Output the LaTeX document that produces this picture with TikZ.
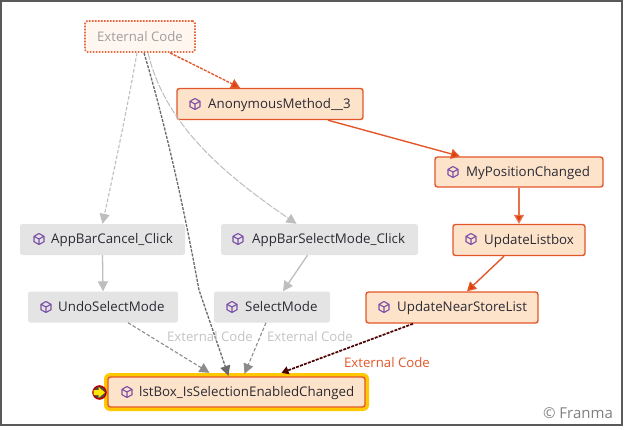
\documentclass[tikz,border=0pt]{standalone}
\usepackage{fontspec}
\setmainfont{Open Sans}
\usetikzlibrary{arrows.meta}
\definecolor{org}{HTML}{E2582B}
\definecolor{orgfill}{HTML}{FEE3CB}
\definecolor{arrowred}{HTML}{DC3F0A}
\definecolor{greyfill}{HTML}{E4E4E4}
\definecolor{greyedge}{HTML}{BEBEBE}
\definecolor{greydark}{HTML}{8C8C8C}
\definecolor{txt}{HTML}{2A2A33}
\definecolor{purp}{HTML}{7B4FA6}
\definecolor{lbl}{HTML}{C4C4C4}
\definecolor{halocol}{HTML}{FFC800}
\tikzset{
 x=1pt,y=-1pt,
 box/.style={rectangle,rounded corners=2.5pt,minimum height=30pt,inner sep=0pt,text=txt,font=\fontsize{13.3pt}{15pt}\selectfont,text height=10pt,text depth=3pt},
 hot/.style={box,draw=org,line width=1.4pt,fill=orgfill},
 cold/.style={box,fill=greyfill},
 redge/.style={-{Triangle[length=9pt,width=10pt,fill=arrowred]},draw=org,line width=1.4pt},
 gedge/.style={-{Triangle[length=10pt,width=10pt]},draw=greyedge,line width=1.3pt},
 gdash/.style={gedge,dashed,dash pattern=on 3.5pt off 2pt,line width=1.1pt},
 edgelbl/.style={font=\fontsize{13.2pt}{15pt}\selectfont,text=lbl,inner sep=0pt},
 pics/cube/.style={code={
  \draw[purp,line width=1.1pt,line join=round]
   (0,-5.5)--(5,-2.7)--(5,2.7)--(0,5.5)--(-5,2.7)--(-5,-2.7)--cycle
   (-5,-2.7)--(0,0)--(5,-2.7) (0,0)--(0,5.5);
 }}
}
\begin{document}
\begin{tikzpicture}
\useasboundingbox (0,0) rectangle (626,429);
\fill[white] (0,0) rectangle (626,429);
\draw[draw=black!65,line width=2pt] (1,1)--(622,1)--(622,425)--(1,425)--cycle;

\node[rectangle,rounded corners=2.5pt,draw=org!90,dash pattern=on 1.6pt off 1.4pt,line width=1.7pt,fill=orgfill!30,minimum width=110pt,minimum height=31pt,inner sep=0pt,text=black!38,font=\fontsize{13.2pt}{15pt}\selectfont] (ext) at (140,36.5) {External Code};

\node[hot,minimum width=186pt,minimum height=31pt,align=left] (anon) at (270,104) {};
\node[hot,minimum width=168pt] (mypos) at (519,172) {};
\node[hot,minimum width=132pt,minimum height=31pt] (upd) at (519,240) {};
\node[hot,minimum width=172pt,minimum height=31pt] (near) at (452,307.5) {};
\node[cold,minimum width=165pt,minimum height=31pt] (cancel) at (102.5,239.5) {};
\node[cold,minimum width=197pt,minimum height=31pt] (selclick) at (319.5,239.5) {};
\node[cold,minimum width=150pt,minimum height=31pt] (undo) at (103,307) {};
\node[cold,minimum width=116pt,minimum height=31pt] (sel) at (272,307) {};
\node[rectangle,rounded corners=6pt,fill=halocol,minimum width=265pt,minimum height=38pt,inner sep=0pt] (halo) at (236.5,392) {};
\node[hot,minimum width=257pt,minimum height=30pt] (lst) at (236.5,392) {};

\node[box,anchor=west] (anontxt) at (208,105) {AnonymousMethod\_\_3};
\node[box,anchor=west] (mypostxt) at (466,173) {MyPositionChanged};
\node[box,anchor=west] (updtxt) at (484,240.5) {UpdateListbox};
\node[box,anchor=west] (neartxt) at (397,308) {UpdateNearStoreList};
\node[box,anchor=west] (canceltxt) at (51,240) {AppBarCancel\_Click};
\node[box,anchor=west] (selclicktxt) at (252,240) {AppBarSelectMode\_Click};
\node[box,anchor=west] (undotxt) at (58,308) {UndoSelectMode};
\node[box,anchor=west] (seltxt) at (245,308) {SelectMode};
\node[box,anchor=west] (lsttxt) at (139,393) {lstBox\_IsSelectionEnabledChanged};

\pic at (195,104) {cube};
\pic at (453,172) {cube};
\pic at (471,239) {cube};
\pic at (384,307) {cube};
\pic at (39,239) {cube};
\pic at (238,239) {cube};
\pic at (46,307) {cube};
\pic at (232,307) {cube};
\pic at (127,392) {cube};

% start marker
\node[circle,draw=red!70!black,line width=1.5pt,fill=black!70,minimum size=13pt,inner sep=0pt] (mark) at (99.5,392.5) {};
\fill[yellow!90!orange] (93.5,390)--(98.5,390)--(98.5,387)--(105,392.5)--(98.5,398)--(98.5,395)--(93.5,395)--cycle;

% edges
\draw[gdash] ([xshift=-3pt]ext.south) .. controls (126,115) and (113,175) .. (cancel.north);
\draw[gdash,draw=greyedge,line width=1pt,dash pattern=on 7pt off 1.5pt] ([xshift=8pt]ext.south) .. controls (165,125) and (225,175) .. ([xshift=-23pt]selclick.north);
\draw[-{Triangle[length=10pt,width=10pt]},draw=black!58,line width=1.3pt,dashed,dash pattern=on 3pt off 1.3pt] ([xshift=4pt]ext.south) .. controls (170,140) and (188,230) .. (199,290) -- ([xshift=-8pt,yshift=-3pt]halo.north);
\draw[gedge] (cancel.south) -- (undo.north);
\draw[gedge] ([xshift=-12pt]selclick.south) -- ([xshift=11pt]sel.north);
\draw[gdash,draw=greydark] ([xshift=25pt]undo.south) -- ([xshift=-27pt]halo.north);
\draw[gdash,draw=greydark] ([xshift=-6pt]sel.south) -- ([xshift=8pt,yshift=-1pt]halo.north);
\draw[-{Triangle[length=7pt,width=8pt]},draw=black!70!red,line width=1.7pt,dashed,dash pattern=on 3pt off 1.2pt] ([xshift=-39pt]near.south) -- ([xshift=45pt]halo.north);
\draw[redge,dashed,dash pattern=on 3pt off 1.2pt] ([xshift=30pt]ext.south) -- ([xshift=-30pt]anon.north);
\draw[redge] ([xshift=58pt]anon.south) -- ([xshift=-59pt]mypos.north);
\draw[redge,draw=org!85] (mypos.south) -- (upd.north);
\draw[redge] ([xshift=-15pt]upd.south) -- ([xshift=15pt]near.north);

\node[edgelbl] (l1) at (210,337) {External Code};
\node[edgelbl] (l2) at (310,337) {External Code};
\node[edgelbl,text=org] (l3) at (387,362.5) {External Code};
\node[edgelbl,text=black!50,font=\fontsize{15pt}{17pt}\selectfont] (c) at (578,413) {© Franma};
\end{tikzpicture}
\end{document}
